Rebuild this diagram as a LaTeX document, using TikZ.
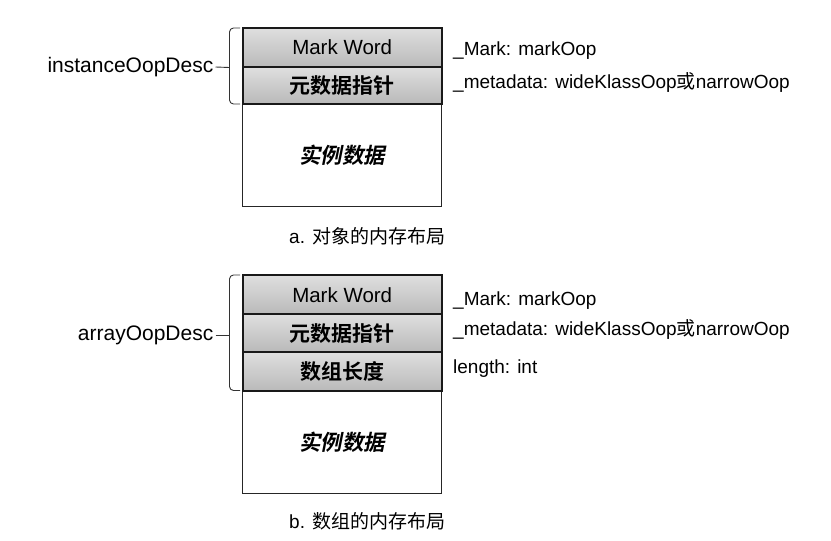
\documentclass[tikz,border=0pt]{standalone}
\usepackage{fontspec}
\setmainfont{Liberation Sans}
\newfontfamily\cjk{Noto Sans CJK SC}
\newfontfamily\cjkb{Noto Sans CJK SC Bold}
\newfontfamily\cjkit{Noto Sans CJK SC Bold}[FakeSlant=0.2]
\begin{document}
\begin{tikzpicture}[x=1pt,y=-1pt,
  cell/.style={draw=black!90, line width=1.8pt, top color=gray!25, bottom color=gray!55,
    minimum width=199pt, inner sep=0pt, outer sep=0pt, font=\fontsize{20.5}{20.5}\selectfont},
  databox/.style={draw=black!85, line width=1.2pt, fill=white,
    minimum width=199pt, inner sep=0pt, outer sep=0pt, font=\fontsize{21.5}{21.5}\cjkit},
  side/.style={anchor=base west, inner sep=0pt, font=\fontsize{19}{19}\selectfont},
  lbl/.style={anchor=east, inner sep=0pt, font=\fontsize{21}{21}\selectfont},
  captxt/.style={anchor=base west, inner sep=0pt, font=\fontsize{19}{19}\selectfont},
  bracket/.style={draw=black!80, line width=0.9pt, rounded corners=4pt},
  conn/.style={draw=black!80, line width=0.9pt}]
\useasboundingbox (0,0) rectangle (831,541);

% ---------- a ----------
\node[databox, minimum height=102.7pt] (ad) at (342.2,155.3) {实例数据};
\node[cell, minimum height=38.4pt] (am) at (342.2,47.5) {Mark Word};
\node[cell, minimum height=37.3pt, font=\fontsize{21}{21}\cjkb] (ameta) at (342.2,85.3) {元数据指针};

\node[side] (asm) at (453,55) {\_Mark: markOop};
\node[side] (asd) at (453,88) {\_metadata: wideKlassOop{\cjk 或}narrowOop};

\draw[bracket] (240,28) -- (229.5,28) -- (229.5,104) -- (240,104);
\coordinate (atip) at (229.5,67.5);
\node[lbl] (alab) at (213.5,67) {instanceOopDesc};
\draw[conn] (alab.east) ++(2,0) -- (atip);

\node[captxt] (acap) at (289,243) {a. {\cjk 对象的内存布局}};

% ---------- b ----------
\node[databox, minimum height=102.6pt] (bd) at (342.2,442) {实例数据};
\node[cell, minimum height=39.3pt] (bm) at (342.2,294.7) {Mark Word};
\node[cell, minimum height=38pt, font=\fontsize{21}{21}\cjkb] (bmeta) at (342.2,333.3) {元数据指针};
\node[cell, minimum height=38.4pt, font=\fontsize{21}{21}\cjkb] (blen) at (342.2,371.5) {数组长度};

\node[side] (bsm) at (453,305) {\_Mark: markOop};
\node[side] (bsd) at (453,335) {\_metadata: wideKlassOop{\cjk 或}narrowOop};
\node[side] (bsl) at (453,373) {length: int};

\draw[bracket] (240,275) -- (229.5,275) -- (229.5,390.5) -- (240,390.5);
\coordinate (btip) at (229.5,335);
\node[lbl] (blab) at (213.5,335) {arrayOopDesc};
\draw[conn] (blab.east) ++(2,0) -- (btip);

\node[captxt] (bcap) at (289,528) {b. {\cjk 数组的内存布局}};
\end{tikzpicture}
\end{document}
